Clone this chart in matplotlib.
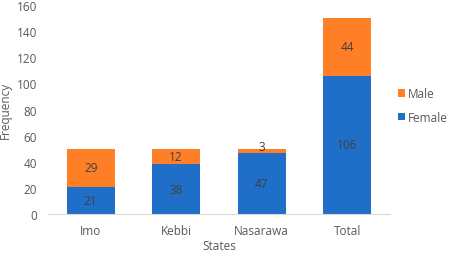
import matplotlib.pyplot as plt
import numpy as np

states = ['Imo', 'Kebbi', 'Nasarawa', 'Total']
female = [21, 38, 47, 106]
male = [29, 12, 3, 44]

blue = '#1F6FC9'
orange = '#FF7F27'
text_col = '#595959'

plt.rcParams['font.family'] = ['Open Sans', 'DejaVu Sans']

fig = plt.figure(figsize=(4.57, 2.55), dpi=100)
ax = fig.add_axes([0.105, 0.157, 0.748, 0.819])

x = np.arange(len(states))
w = 0.56
b1 = ax.bar(x, female, w, color=blue, label='Female')
b2 = ax.bar(x, male, w, bottom=female, color=orange, label='Male')

# value labels in the middle of each segment
for i in range(len(states)):
    ax.text(x[i], female[i] / 2, str(female[i]), ha='center', va='center',
            fontsize=8.5, color='#404040')
    ypos = female[i] + male[i] / 2
    if male[i] < 6:
        ypos = female[i] + male[i] + 2
    ax.text(x[i], ypos, str(male[i]), ha='center', va='center',
            fontsize=8.5, color='#404040')

ax.set_xlim(-0.5, 3.5)
ax.set_ylim(0, 160)
ax.set_yticks(range(0, 161, 20))
ax.set_xticks(x)
ax.set_xticklabels(states)
ax.tick_params(axis='both', length=0, labelsize=8.5, colors=text_col)
ax.tick_params(axis='y', pad=8)
ax.tick_params(axis='x', pad=7)

for s in ['top', 'right', 'left']:
    ax.spines[s].set_visible(False)
ax.spines['bottom'].set_color('#D9D9D9')

ax.set_xlabel('States', fontsize=8.5, color=text_col, labelpad=2)
ax.set_ylabel('Frequency', fontsize=8.5, color=text_col, labelpad=3)

handles = [b2, b1]
ax.legend(handles, ['Male', 'Female'], loc='center left', bbox_to_anchor=(1.0, 0.52),
          frameon=False, fontsize=8.5, labelcolor=text_col, handlelength=0.6,
          handleheight=0.6, handletextpad=0.25, labelspacing=0.9,
          borderaxespad=0.3)

fig.savefig('out.png', dpi=100)
